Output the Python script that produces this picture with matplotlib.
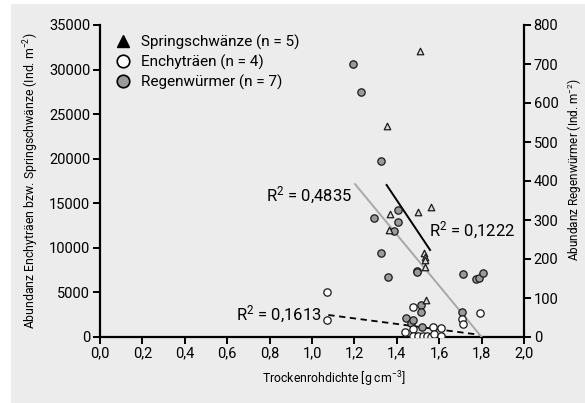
import matplotlib
matplotlib.use("Agg")
import matplotlib.pyplot as plt
from matplotlib.patches import Rectangle
from matplotlib.lines import Line2D
from matplotlib.ticker import FixedLocator, FuncFormatter

FONT = ["Roboto", "DejaVu Sans"]
plt.rcParams["font.family"] = FONT
plt.rcParams["mathtext.fontset"] = "custom"
plt.rcParams["mathtext.rm"] = "Roboto"
plt.rcParams["mathtext.it"] = "Roboto"
plt.rcParams["mathtext.default"] = "rm"

# Springschwänze (left axis)
spring_x = [1.509, 1.352, 1.369, 1.498, 1.560, 1.361, 1.530, 1.532, 1.535, 1.532, 1.540]
spring_y = [32100, 23700, 13800, 14000, 14600, 12000, 9450, 8950, 8650, 7900, 4200]

# Enchyträen (left axis)
enchy_x = [1.069, 1.069, 1.478, 1.437, 1.475, 1.475, 1.502, 1.525, 1.544, 1.560,
           1.572, 1.577, 1.607, 1.608, 1.709, 1.714, 1.792]
enchy_y = [5100, 1900, 3350, 600, 860, 100, 150, 150, 100, 0,
           1160, 340, 980, 100, 2020, 1420, 2660]

# Regenwürmer (right axis)
regen_x = [1.195, 1.231, 1.325, 1.294, 1.406, 1.407, 1.387, 1.324, 1.497, 1.497,
           1.357, 1.710, 1.772, 1.788, 1.807, 1.512, 1.514, 1.443, 1.465, 1.478,
           1.517, 1.709]
regen_y = [699, 629, 451, 304, 325, 294, 272, 215, 170, 166,
           154, 161, 149, 152, 164, 83, 63, 48, 35, 44,
           26, 63]

# Fitted trend lines (end points)
fit_spring_x = [1.352, 1.557]
fit_spring_y = [17050, 9760]
fit_regen_x = [1.203, 1.800]
fit_regen_y = [392, 0]
fit_enchy_x = [1.077, 1.790]
fit_enchy_y = [2470, 250]

x_ticks = [0.0, 0.2, 0.4, 0.6, 0.8, 1.0, 1.2, 1.4, 1.6, 1.8, 2.0]
left_ticks = [0, 5000, 10000, 15000, 20000, 25000, 30000, 35000]
right_ticks = [0, 100, 200, 300, 400, 500, 600, 700, 800]

BG = "#ececec"
EDGE = "#1a1a1a"

fig = plt.figure(figsize=(5.85, 4.03), dpi=100, facecolor="white")
fig.patches.append(Rectangle((11 / 585, 0), 1 - 11 / 585, (403 - 4) / 403,
                             transform=fig.transFigure, facecolor=BG,
                             edgecolor="none", zorder=-10))

ax = fig.add_axes([100 / 585, (403 - 337) / 403, (524 - 100) / 585, (337 - 25) / 403])
ax.set_facecolor("none")
ax2 = ax.twinx()
ax2.set_facecolor("none")

ax.set_xlim(0, 2.0)
ax.set_ylim(0, 35000)
ax2.set_ylim(0, 800)

for a in (ax, ax2):
    a.spines["top"].set_visible(False)
    for s in ("left", "right", "bottom"):
        a.spines[s].set_linewidth(1.6)
        a.spines[s].set_color("black")
ax.spines["right"].set_visible(False)
ax2.spines["left"].set_visible(False)
ax2.spines["bottom"].set_visible(False)

ax.xaxis.set_major_locator(FixedLocator(x_ticks))
ax.xaxis.set_major_formatter(FuncFormatter(lambda v, p: f"{v:.1f}".replace(".", ",")))
ax.yaxis.set_major_locator(FixedLocator(left_ticks))
ax2.yaxis.set_major_locator(FixedLocator(right_ticks))

ax.tick_params(axis="both", direction="out", length=5, width=1.4, labelsize=10.5, pad=2)
ax2.tick_params(axis="y", direction="out", length=5, width=1.4, labelsize=10.5, pad=2)

# trend lines
ax.plot(fit_enchy_x, fit_enchy_y, color="black", lw=1.3, ls=(0, (3.5, 2.5)), zorder=2)
ax.plot(fit_spring_x, fit_spring_y, color="black", lw=1.4, zorder=2)
ax2.plot(fit_regen_x, fit_regen_y, color="#a8a8a8", lw=1.4, zorder=2)

# data points
ax2.scatter(regen_x, regen_y, s=28, marker="o", facecolor="#9a9a9a",
            edgecolor=EDGE, linewidth=0.9, zorder=3)
ax2.scatter(enchy_x, [v * 800 / 35000 for v in enchy_y], s=28, marker="o",
            facecolor="white", edgecolor=EDGE, linewidth=0.9, zorder=4)
ax2.scatter(spring_x, [v * 800 / 35000 for v in spring_y], s=22, marker="^",
            facecolor="#dcdcdc", edgecolor=EDGE, linewidth=0.9, zorder=5)

# R² annotations
ax.text(1.19, 15900, "R$^{2}$ = 0,4835", fontsize=12, ha="right", va="center")
ax.text(1.55, 12000, "R$^{2}$ = 0,1222", fontsize=12, ha="left", va="center")
ax.text(1.047, 2500, "R$^{2}$ = 0,1613", fontsize=12, ha="right", va="center")

# legend
handles = [
    Line2D([], [], ls="none", marker="^", markersize=9, markerfacecolor="black",
           markeredgecolor="black"),
    Line2D([], [], ls="none", marker="o", markersize=9, markerfacecolor="white",
           markeredgecolor="black", markeredgewidth=1.2),
    Line2D([], [], ls="none", marker="o", markersize=9, markerfacecolor="#9a9a9a",
           markeredgecolor="black", markeredgewidth=1.2),
]
labels = ["Springschwänze (n = 5)", "Enchyträen (n = 4)", "Regenwürmer (n = 7)"]
ax.legend(handles, labels, loc="upper left", bbox_to_anchor=(0.007, 1.004),
          frameon=False, fontsize=11, handletextpad=0.6, labelspacing=0.3,
          borderaxespad=0.3, handlelength=1.2)

ax.set_xlabel("Trockenrohdichte [g cm$^{-3}$]", fontsize=8.8)
ax.xaxis.set_label_coords(0.552, -0.105)
ax.set_ylabel("Abundanz Enchyträen bzw. Springschwänze (Ind. m$^{-2}$)", fontsize=8.8,
              labelpad=6)
ax2.set_ylabel("Abundanz Regenwürmer (Ind. m$^{-2}$)", fontsize=8.5)
ax2.yaxis.set_label_coords(1.098, 0.535)

fig.savefig("out.png", dpi=100, facecolor="white")
